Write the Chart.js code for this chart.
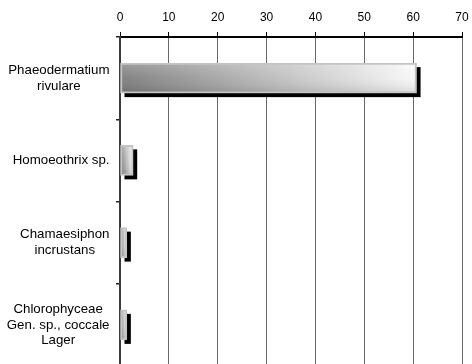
<!DOCTYPE html>
<html>
<head>
<meta charset="utf-8">
<script src="https://cdn.jsdelivr.net/npm/chart.js@4/dist/chart.umd.min.js"></script>
<style>
  html, body { margin: 0; padding: 0; background: #fff; overflow: hidden; }
  #wrap { position: relative; width: 472px; height: 366px; }
</style>
</head>
<body>
<div id="wrap"><canvas id="chart"></canvas></div>
<script>
// Taxa (multi-line category labels) and their shares
const categories = [
  ['Phaeodermatium', 'rivulare'],
  ['Homoeothrix sp.'],
  ['Chamaesiphon', 'incrustans'],
  ['Chlorophyceae', 'Gen. sp., coccale', 'Lager']
];
const shares = [60.7, 2.7, 1.4, 1.4];
const valueTicks = [0, 10, 20, 30, 40, 50, 60, 70];

const FONT = "'Liberation Sans', Arial, Helvetica, sans-serif";

// Shaded bar fill: dark-to-light horizontal ramp with a soft vertical shade
function barPattern(chart, w, h, x0, top) {
  const off = document.createElement('canvas');
  off.width = Math.max(1, Math.round(w));
  off.height = Math.max(1, Math.round(h));
  const c = off.getContext('2d');
  const g = c.createLinearGradient(0, 0, off.width, 0);
  g.addColorStop(0, '#7c7c7c');
  g.addColorStop(1, '#f8f8f8');
  c.fillStyle = g;
  c.fillRect(0, 0, off.width, off.height);
  const v = c.createLinearGradient(0, 0, 0, off.height);
  v.addColorStop(0, 'rgba(255,255,255,0.25)');
  v.addColorStop(0.5, 'rgba(255,255,255,0.05)');
  v.addColorStop(1, 'rgba(0,0,0,0.12)');
  c.fillStyle = v;
  c.fillRect(0, 0, off.width, off.height);
  const p = chart.ctx.createPattern(off, 'no-repeat');
  if (p && p.setTransform) p.setTransform(new DOMMatrix().translate(x0, top));
  return p || '#bbbbbb';
}

// Black drop shadow behind each bar, offset down-right
const barShadow = {
  id: 'barShadow',
  beforeDatasetsDraw(chart) {
    const ctx = chart.ctx;
    const meta = chart.getDatasetMeta(0);
    ctx.save();
    ctx.fillStyle = '#000';
    meta.data.forEach(el => {
      const p = el.getProps(['x', 'y', 'base', 'height'], true);
      const left = Math.min(p.x, p.base), right = Math.max(p.x, p.base);
      ctx.fillRect(left + 4, p.y - p.height / 2 + 4, right - left, p.height);
    });
    ctx.restore();
  }
};

// Category labels: each block centred on itself, blocks right-aligned to the axis
const blockLabels = {
  id: 'blockLabels',
  afterDraw(chart) {
    const ctx = chart.ctx;
    const ys = chart.scales.y;
    const lh = 15.8;
    ctx.save();
    ctx.font = '13.3px ' + FONT;
    ctx.fillStyle = '#000';
    ctx.textAlign = 'center';
    ctx.textBaseline = 'middle';
    categories.forEach((lines, i) => {
      const yc = ys.getPixelForTick(i);
      const widest = Math.max(...lines.map(t => ctx.measureText(t).width));
      const cx = ys.right - 10.5 - widest / 2;
      lines.forEach((t, j) => {
        ctx.fillText(t, cx, yc + (j - (lines.length - 1) / 2) * lh);
      });
    });
    ctx.restore();
  }
};

new Chart(document.getElementById('chart'), {
  type: 'bar',
  data: {
    labels: categories.map(l => l.join(' ')),
    datasets: [{
      data: shares,
      barThickness: 30,
      borderWidth: 2,
      borderColor: '#c4c4c4',
      borderSkipped: false,
      backgroundColor: ctx => {
        const chart = ctx.chart;
        const xs = chart.scales.x, ys = chart.scales.y;
        if (!xs || !ys || ctx.type !== 'data') return '#bbbbbb';
        const x0 = xs.getPixelForValue(0);
        const x1 = xs.getPixelForValue(ctx.raw);
        const yc = ys.getPixelForValue(ctx.dataIndex);
        if (![x0, x1, yc].every(Number.isFinite) || x1 - x0 < 1) return '#bbbbbb';
        return barPattern(chart, x1 - x0, 30, x0, yc - 15);
      }
    }]
  },
  options: {
    indexAxis: 'y',
    responsive: true,
    maintainAspectRatio: false,
    animation: false,
    layout: { padding: { left: 0, right: 10, top: 0, bottom: 0 } },
    plugins: { legend: { display: false }, tooltip: { enabled: false } },
    scales: {
      x: {
        position: 'top',
        min: 0,
        max: 70,
        afterBuildTicks: s => { s.ticks = valueTicks.map(v => ({ value: v })); },
        afterFit: s => { s.height = 37; s.paddingLeft = 0; s.paddingRight = 0; },
        ticks: { color: '#000', font: { family: FONT, size: 12 }, padding: 7 },
        grid: { color: '#6a6a6a', lineWidth: 1, tickLength: 5, tickColor: '#000' },
        border: { color: '#000', width: 2 }
      },
      y: {
        afterFit: s => { s.width = 120; },
        ticks: { display: false },
        grid: { drawOnChartArea: false, offset: true, tickLength: 4, color: '#222', lineWidth: 1.5 },
        border: { color: '#3a3a3a', width: 2 }
      }
    }
  },
  plugins: [barShadow, blockLabels]
});
</script>
</body>
</html>
